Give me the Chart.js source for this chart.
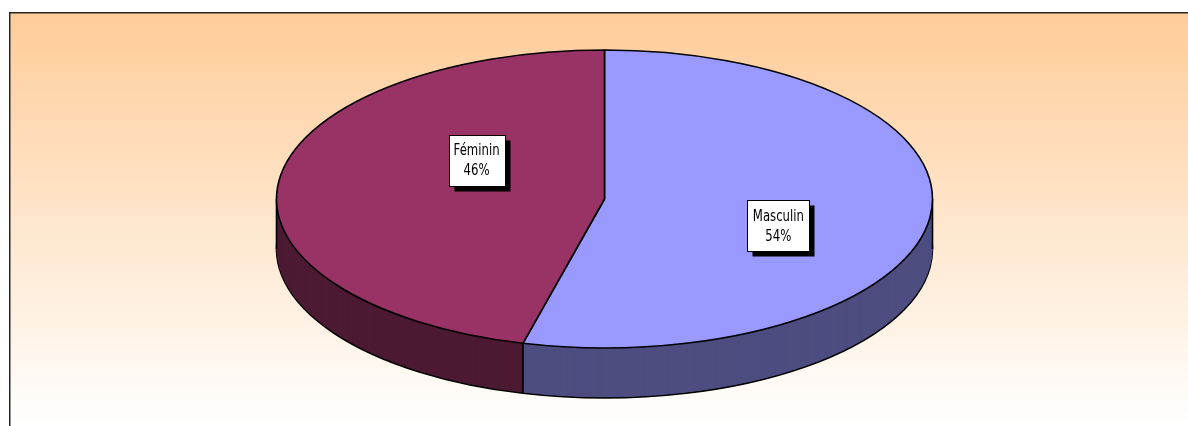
<!DOCTYPE html>
<html>
<head>
<meta charset="utf-8">
<script src="https://cdn.jsdelivr.net/npm/chart.js@4.4.0/dist/chart.umd.min.js"></script>
<style>
  html, body { margin: 0; padding: 0; background: #ffffff; }
  #wrap { position: relative; width: 1188px; height: 426px; }
</style>
</head>
<body>
<div id="wrap"><canvas id="c" width="1188" height="426"></canvas></div>
<script>
const categories = ['Masculin', 'Féminin'];
const shares = [54, 46];
const topColors = ['#9999FF', '#993366'];
const wallColors = ['#4D4D80', '#4D1A33'];

// Geometry of the 3D pie on screen (styles, not data)
const PIE = { cx: 604.5, cy: 199, rx: 328, ry: 149, depth: 50 };
// label box centers relative to pie center, in units of rx / ry
const LABEL_POS = [ [0.53, 0.18], [-0.39, -0.26] ];

function makeTransform(arc, d) {
  const R = arc.outerRadius;
  const sx = PIE.rx / R, sy = PIE.ry / R;
  return [sx, 0, 0, sy, PIE.cx - sx * arc.x, PIE.cy + d - sy * arc.y];
}
function mapPt(arc, d, x, y) {
  const t = makeTransform(arc, d);
  return [t[0] * x + t[4], t[3] * y + t[5]];
}
function patchStroke(ctx) {
  const orig = ctx.stroke;
  ctx.stroke = function () {
    ctx.save();
    ctx.setTransform(1, 0, 0, 1, 0, 0);
    orig.apply(ctx, arguments);
    ctx.restore();
  };
  return () => { ctx.stroke = orig; };
}

const pie3d = {
  id: 'pie3d',
  beforeDraw(chart) {
    const ctx = chart.ctx;
    const W = chart.width, H = chart.height;
    ctx.save();
    const g = ctx.createLinearGradient(0, 13, 0, H);
    g.addColorStop(0, '#FFCC99');
    g.addColorStop(1, '#FFFFFF');
    ctx.fillStyle = g;
    ctx.fillRect(10, 13, W - 10, H - 13);
    ctx.strokeStyle = '#262626';
    ctx.lineWidth = 1.5;
    ctx.beginPath();
    ctx.moveTo(9.75, H);
    ctx.lineTo(9.75, 12.75);
    ctx.lineTo(W, 12.75);
    ctx.stroke();
    ctx.restore();
  },
  beforeDatasetsDraw(chart) {
    const ctx = chart.ctx;
    const meta = chart.getDatasetMeta(0);
    const arcs = meta.data;
    if (!arcs.length) return;
    const a0 = arcs[0];
    // side walls: stack of darker slices from the bottom up
    for (let d = PIE.depth; d >= 1; d--) {
      ctx.save();
      ctx.setTransform.apply(ctx, makeTransform(a0, d));
      const unpatch = patchStroke(ctx);
      arcs.forEach((arc, i) => {
        const tmp = Object.create(arc);
        tmp.options = Object.assign({}, arc.options, {
          backgroundColor: wallColors[i],
          borderColor: '#000000',
          borderWidth: d === PIE.depth ? 1.6 : 0
        });
        tmp.draw(ctx);
      });
      unpatch();
      ctx.restore();
    }
    // vertical edges of the wall (left, right, and at the slice boundaries on the front)
    ctx.save();
    ctx.strokeStyle = '#000000';
    ctx.lineWidth = 1.6;
    const edges = [Math.PI, 0];
    arcs.forEach(arc => {
      const ang = arc.endAngle;
      if (Math.sin(ang) > 0) edges.push(ang);
    });
    edges.forEach(ang => {
      const px = a0.x + a0.outerRadius * Math.cos(ang);
      const py = a0.y + a0.outerRadius * Math.sin(ang);
      const p1 = mapPt(a0, 0, px, py);
      const p2 = mapPt(a0, PIE.depth, px, py);
      ctx.beginPath();
      ctx.moveTo(p1[0], p1[1]);
      ctx.lineTo(p2[0], p2[1]);
      ctx.stroke();
    });
    ctx.restore();
    // top face: drawn by the library under the squashing transform
    ctx.save();
    ctx.setTransform.apply(ctx, makeTransform(a0, 0));
    chart.$unpatch = patchStroke(ctx);
  },
  afterDatasetsDraw(chart) {
    const ctx = chart.ctx;
    if (chart.$unpatch) { chart.$unpatch(); chart.$unpatch = null; }
    ctx.restore();
    // labels
    const meta = chart.getDatasetMeta(0);
    const total = shares.reduce((s, v) => s + v, 0);
    ctx.save();
    ctx.font = '13px "Liberation Sans Narrow", "DejaVu Sans Condensed", sans-serif';
    ctx.textAlign = 'center';
    ctx.textBaseline = 'middle';
    meta.data.forEach((arc, i) => {
      const cxL = PIE.cx + LABEL_POS[i][0] * PIE.rx;
      const cyL = PIE.cy + LABEL_POS[i][1] * PIE.ry;
      const l1 = categories[i];
      const l2 = Math.round(shares[i] / total * 100) + '%';
      const w = Math.ceil(Math.max(ctx.measureText(l1).width, ctx.measureText(l2).width)) + 10;
      const h = 51;
      const x = Math.round(cxL - w / 2) + 0.5, y = Math.round(cyL - h / 2) + 0.5;
      ctx.fillStyle = '#000000';
      ctx.fillRect(x + 5, y + 5, w, h);
      ctx.fillStyle = '#FFFFFF';
      ctx.fillRect(x, y, w, h);
      ctx.strokeStyle = '#000000';
      ctx.lineWidth = 1;
      ctx.strokeRect(x, y, w, h);
      ctx.fillStyle = '#000000';
      [[l1, -9], [l2, 11]].forEach(([txt, dy]) => {
        ctx.save();
        ctx.translate(cxL, cyL + dy);
        ctx.scale(1, 1.25);
        ctx.fillText(txt, 0, 0);
        ctx.restore();
      });
    });
    ctx.restore();
  }
};

new Chart(document.getElementById('c'), {
  type: 'pie',
  data: {
    labels: categories,
    datasets: [{
      data: shares,
      backgroundColor: topColors,
      borderColor: '#000000',
      borderWidth: 1.6,
      clip: false
    }]
  },
  options: {
    responsive: false,
    animation: false,
    events: [],
    layout: { padding: 0 },
    plugins: { legend: { display: false }, tooltip: { enabled: false } }
  },
  plugins: [pie3d]
});
</script>
</body>
</html>
